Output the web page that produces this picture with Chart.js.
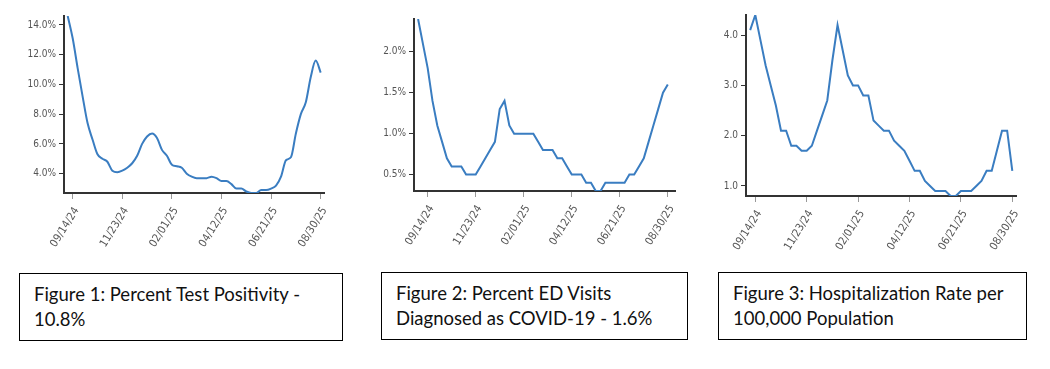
<!DOCTYPE html>
<html>
<head>
<meta charset="utf-8">
<script src="https://cdn.jsdelivr.net/npm/chart.js@4.4.1/dist/chart.umd.min.js"></script>
<style>
  body { margin: 0; background: #fff; width: 1050px; height: 369px; position: relative; overflow: hidden; }
  canvas { position: absolute; top: 0; }
  .caption {
    position: absolute;
    box-sizing: border-box;
    border: 1.5px solid #000;
    font-family: Lato, 'Liberation Sans', sans-serif;
    font-size: 18.5px;
    line-height: 25px;
    color: #111;
    padding: 8px 0 0 14px;
    height: 68px;
  }
</style>
</head>
<body>
<canvas id="chart1" width="345" height="262" style="left:0px"></canvas>
<canvas id="chart2" width="345" height="262" style="left:350px"></canvas>
<canvas id="chart3" width="350" height="262" style="left:700px"></canvas>

<div class="caption" style="left:19px; top:273px; width:324px;">Figure 1: Percent Test Positivity -<br>10.8%</div>
<div class="caption" style="left:381px; top:272px; width:307px;">Figure 2: Percent ED Visits<br>Diagnosed as COVID-19 - 1.6%</div>
<div class="caption" style="left:718px; top:272px; width:309px;">Figure 3: Hospitalization Rate per<br>100,000 Population</div>

<script>
// week offsets counted from 09/14/24, one tick every 10 weeks
const tickWeeks = [0, 10, 20, 30, 40, 50];
const tickDates = ['09/14/24', '11/23/24', '02/01/25', '04/12/25', '06/21/25', '08/30/25'];

// Figure 1: percent test positivity, weekly from 09/07/24
const positivityStart = -1;
const positivity = [14.6, 13.1, 11.1, 9.2, 7.4, 6.3, 5.3, 5.0, 4.8, 4.2,
                    4.1, 4.2, 4.4, 4.7, 5.2, 6.0, 6.5, 6.7, 6.4, 5.6,
                    5.2, 4.6, 4.5, 4.4, 4.0, 3.8, 3.7, 3.7, 3.7, 3.8,
                    3.7, 3.5, 3.5, 3.3, 3.0, 3.0, 2.8, 2.7, 2.7, 2.9,
                    2.9, 3.0, 3.2, 3.8, 4.9, 5.1, 6.7, 8.0, 8.8, 10.5,
                    11.6, 10.8];
const positivityTicks = [4, 6, 8, 10, 12, 14];

// Figure 2: percent ED visits diagnosed as COVID-19, weekly from 08/31/24
const edStart = -2;
const edVisits = [2.4, 2.1, 1.8, 1.4, 1.1, 0.9, 0.7, 0.6, 0.6, 0.6,
                  0.5, 0.5, 0.5, 0.6, 0.7, 0.8, 0.9, 1.3, 1.4, 1.1,
                  1.0, 1.0, 1.0, 1.0, 1.0, 0.9, 0.8, 0.8, 0.8, 0.7,
                  0.7, 0.6, 0.5, 0.5, 0.5, 0.4, 0.4, 0.3, 0.3, 0.4,
                  0.4, 0.4, 0.4, 0.4, 0.5, 0.5, 0.6, 0.7, 0.9, 1.1,
                  1.3, 1.5, 1.6];
const edTicks = [0.5, 1.0, 1.5, 2.0];

// Figure 3: hospitalization rate per 100,000, weekly from 09/07/24
const hospStart = -1;
const hospRate = [4.1, 4.4, 3.9, 3.4, 3.0, 2.6, 2.1, 2.1, 1.8, 1.8,
                  1.7, 1.7, 1.8, 2.1, 2.4, 2.7, 3.5, 4.2, 3.7, 3.2,
                  3.0, 3.0, 2.8, 2.8, 2.3, 2.2, 2.1, 2.1, 1.9, 1.8,
                  1.7, 1.5, 1.3, 1.3, 1.1, 1.0, 0.9, 0.9, 0.9, 0.8,
                  0.8, 0.9, 0.9, 0.9, 1.0, 1.1, 1.3, 1.3, 1.7, 2.1,
                  2.1, 1.3];
const hospTicks = [1, 2, 3, 4];

const lineColor = '#3a7dc1';
const tickFont = "'Liberation Sans Narrow', 'DejaVu Sans Condensed', 'Liberation Sans', sans-serif";

function makeChart(id, cfg) {
    const ctx = document.getElementById(id).getContext('2d');
    const points = cfg.values.map((v, i) => ({ x: cfg.start + i, y: v }));
    return new Chart(ctx, {
        type: 'line',
        data: {
            datasets: [{
                data: points,
                borderColor: lineColor,
                borderWidth: 2,
                pointRadius: 0,
                fill: false,
                cubicInterpolationMode: cfg.smooth ? 'monotone' : 'default',
                tension: 0,
            }],
        },
        options: {
            responsive: false,
            animation: false,
            layout: {
                padding: { top: cfg.padTop, right: cfg.padRight, left: 0, bottom: 0 },
            },
            plugins: {
                legend: { display: false },
                tooltip: { enabled: false },
            },
            scales: {
                x: {
                    type: 'linear',
                    min: cfg.xMin,
                    max: cfg.xMax,
                    afterBuildTicks: s => { s.ticks = tickWeeks.map(v => ({ value: v })); },
                    afterFit: s => { s.height = cfg.xHeight; },
                    grid: { drawOnChartArea: false, color: '#999', lineWidth: 1, tickLength: 6 },
                    border: { color: '#333', width: 2 },
                    ticks: {
                        autoSkip: false,
                        minRotation: 58,
                        maxRotation: 58,
                        padding: 6,
                        labelOffset: 4,
                        color: '#555',
                        font: { family: tickFont, size: 11 },
                        callback: v => tickDates[tickWeeks.indexOf(v)],
                    },
                },
                y: {
                    min: cfg.yMin,
                    max: cfg.yMax,
                    afterBuildTicks: s => { s.ticks = cfg.yTicks.map(v => ({ value: v })); },
                    afterFit: s => { s.width = cfg.yWidth; },
                    grid: { drawOnChartArea: false, color: '#333', lineWidth: 1, tickLength: 5 },
                    border: { color: '#333', width: 2 },
                    ticks: {
                        padding: 3,
                        color: '#555',
                        font: { family: tickFont, size: 10 },
                        callback: v => v.toFixed(1) + cfg.suffix,
                    },
                },
            },
        },
    });
}

makeChart('chart1', {
    values: positivity, start: positivityStart, yTicks: positivityTicks, suffix: '%', smooth: true,
    xMin: -1.75, xMax: 50.67, yMin: 2.7, yMax: 14.6,
    yWidth: 64, xHeight: 69, padTop: 16, padRight: 21,
});

makeChart('chart2', {
    values: edVisits, start: edStart, yTicks: edTicks, suffix: '%', smooth: false,
    xMin: -2.85, xMax: 51.5, yMin: 0.3, yMax: 2.4,
    yWidth: 64, xHeight: 71, padTop: 19, padRight: 20,
});

makeChart('chart3', {
    values: hospRate, start: hospStart, yTicks: hospTicks, suffix: '', smooth: false,
    xMin: -1.81, xMax: 50.72, yMin: 0.8, yMax: 4.4,
    yWidth: 46, xHeight: 66, padTop: 15, padRight: 34,
});
</script>
</body>
</html>
